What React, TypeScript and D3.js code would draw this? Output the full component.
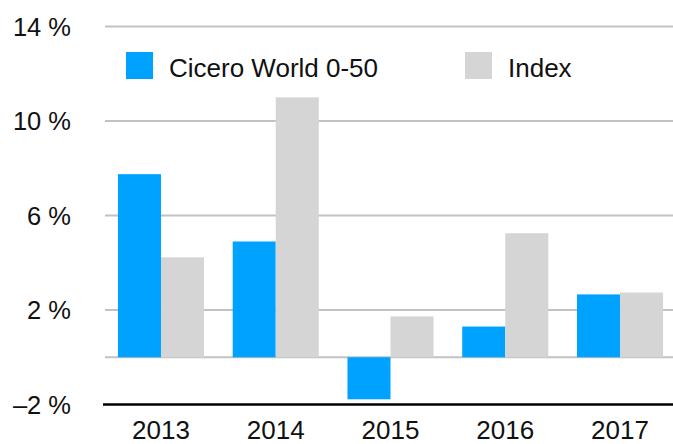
import React from "react";
import * as d3 from "d3";

const categories = ["2013", "2014", "2015", "2016", "2017"];
const seriesNames = ["Cicero World 0-50", "Index"];
const cicero = [7.75, 4.9, -1.78, 1.3, 2.66];
const indexVals = [4.23, 11.0, 1.73, 5.25, 2.74];
const gridTicks = [14, 10, 6, 2, 0];
const labelTicks = [14, 10, 6, 2, -2];
const colors = ["#00A2FF", "#D5D5D5"];

const W = 673;
const H = 444;

export default function App() {
  const y = d3.scaleLinear().domain([-2, 14]).range([404.5, 26.5]);
  const x = d3
    .scaleBand<string>()
    .domain(categories)
    .range([103.6, 677.4])
    .paddingInner(0.25)
    .paddingOuter(0.125);
  const inner = d3.scaleBand<number>().domain([0, 1]).range([0, x.bandwidth()]);
  const series = [cicero, indexVals];
  const font = "'Liberation Sans', Arial, Helvetica, sans-serif";

  return (
    <svg
      width={W}
      height={H}
      style={{ position: "absolute", left: 0, top: 0, background: "#fff" }}
      fontFamily={font}
    >
      {gridTicks.map((t) => (
        <line
          key={"g" + t}
          x1={105}
          x2={W}
          y1={y(t)}
          y2={y(t)}
          stroke="#C2C2C2"
          strokeWidth={2}
        />
      ))}
      {labelTicks.map((t) => (
        <text
          key={"l" + t}
          x={71}
          y={y(t) + 9}
          textAnchor="end"
          fontSize={25.5}
          fill="#111"
        >
          {(t < 0 ? "\u2013" + Math.abs(t) : String(t)) + " %"}
        </text>
      ))}
      {series.map((vals, si) =>
        categories.map((c, i) => {
          const v = vals[i];
          const y0 = y(0);
          const yv = y(v);
          return (
            <rect
              key={si + "-" + c}
              x={(x(c) as number) + (inner(si) as number)}
              width={inner.bandwidth()}
              y={Math.min(y0, yv)}
              height={Math.abs(y0 - yv)}
              fill={colors[si]}
            />
          );
        })
      )}
      <line x1={103} x2={W} y1={y(-2)} y2={y(-2)} stroke="#000" strokeWidth={2.5} />
      {categories.map((c) => (
        <text
          key={"x" + c}
          x={(x(c) as number) + x.bandwidth() / 2}
          y={439}
          textAnchor="middle"
          fontSize={26}
          fill="#111"
        >
          {c}
        </text>
      ))}
      {seriesNames.map((n, i) => {
        const lx = [126, 465][i];
        return (
          <g key={n}>
            <rect x={lx} y={52} width={27} height={27} fill={colors[i]} />
            <text x={lx + 43} y={77} fontSize={26} fill="#111">
              {n}
            </text>
          </g>
        );
      })}
    </svg>
  );
}
